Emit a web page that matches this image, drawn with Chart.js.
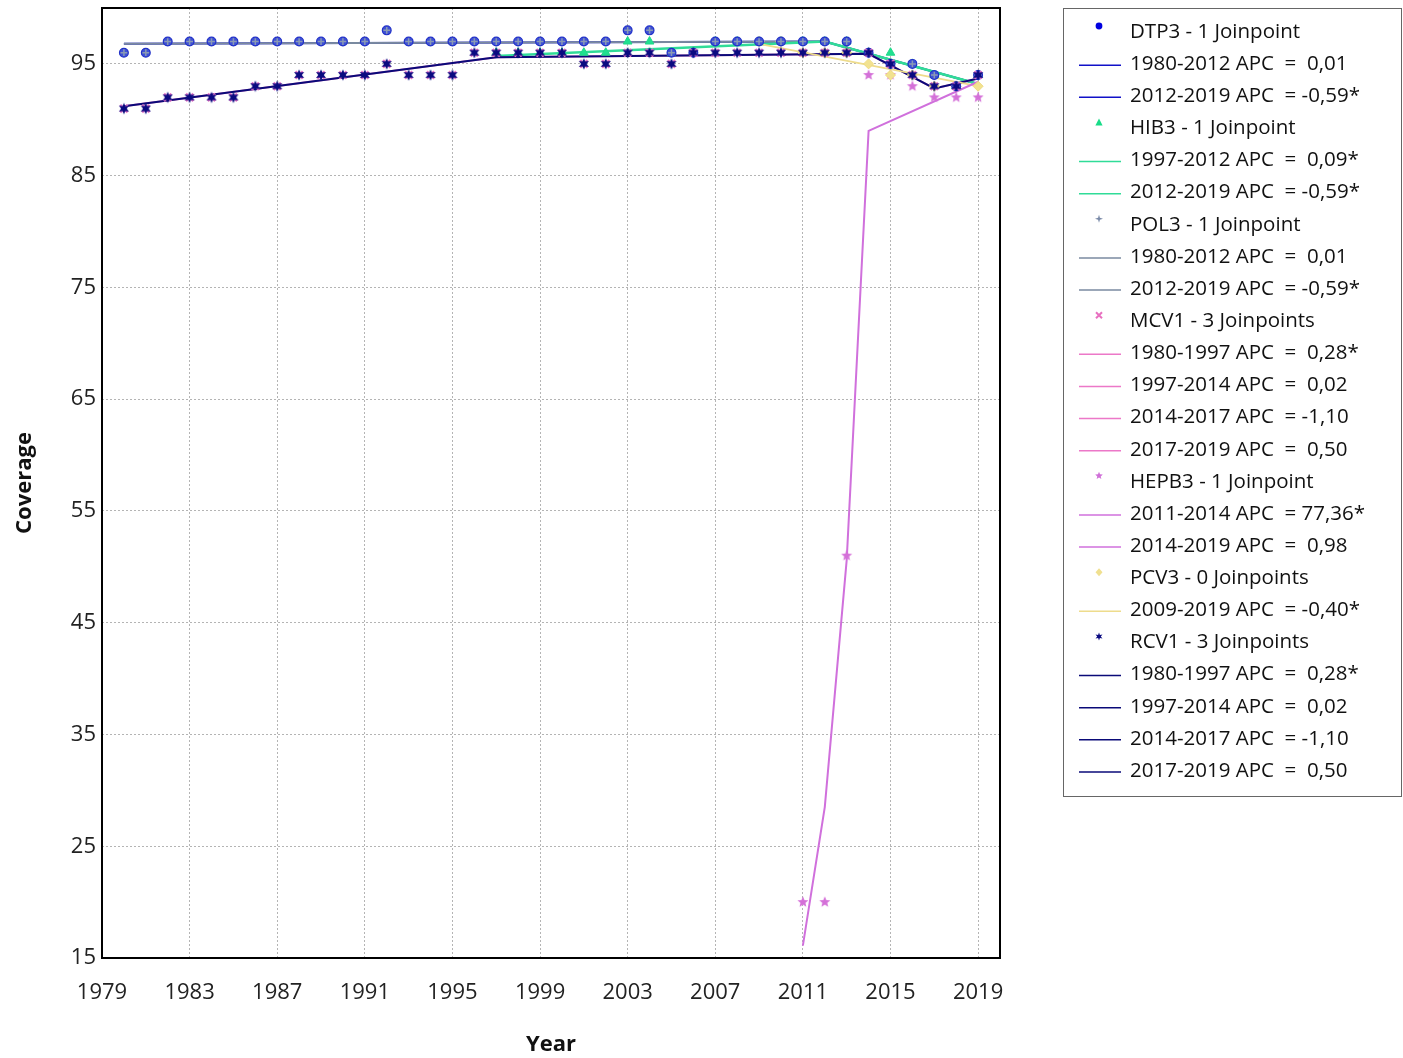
<!DOCTYPE html>
<html>
<head>
<meta charset="utf-8">
<script src="https://cdn.jsdelivr.net/npm/chart.js@4.4.0/dist/chart.umd.min.js"></script>
<style>
  html, body { margin: 0; padding: 0; background: #fff; }
</style>
</head>
<body>
<canvas id="chart" width="1403" height="1058"></canvas>
<script>
// observed coverage, 1980-2019
const years = [1980, 1981, 1982, 1983, 1984, 1985, 1986, 1987, 1988, 1989,
  1990, 1991, 1992, 1993, 1994, 1995, 1996, 1997, 1998, 1999,
  2000, 2001, 2002, 2003, 2004, 2005, 2006, 2007, 2008, 2009,
  2010, 2011, 2012, 2013, 2014, 2015, 2016, 2017, 2018, 2019];
const dtp3 = [96, 96, 97, 97, 97, 97, 97, 97, 97, 97,
  97, 97, 98, 97, 97, 97, 97, 97, 97, 97,
  97, 97, 97, 98, 98, 96, 96, 97, 97, 97,
  97, 97, 97, 97, 96, 95, 95, 94, 93, 94];
const pol3 = [96, 96, 97, 97, 97, 97, 97, 97, 97, 97,
  97, 97, 98, 97, 97, 97, 97, 97, 97, 97,
  97, 97, 97, 98, 98, 96, 96, 97, 97, 97,
  97, 97, 97, 97, 96, 95, 95, 94, 93, 94];
const mcv1 = [91, 91, 92, 92, 92, 92, 93, 93, 94, 94,
  94, 94, 95, 94, 94, 94, 96, 96, 96, 96,
  96, 95, 95, 96, 96, 95, 96, 96, 96, 96,
  96, 96, 96, 96, 96, 95, 94, 93, 93, 94];
const rcv1 = [91, 91, 92, 92, 92, 92, 93, 93, 94, 94,
  94, 94, 95, 94, 94, 94, 96, 96, 96, 96,
  96, 95, 95, 96, 96, 95, 96, 96, 96, 96,
  96, 96, 96, 96, 96, 95, 94, 93, 93, 94];

const hib3Years = [1997, 1998, 1999, 2000, 2001, 2002, 2003, 2004, 2005, 2006, 2007, 2008,
  2009, 2010, 2011, 2012, 2013, 2014, 2015, 2016, 2017, 2018, 2019];
const hib3 = [96, 96, 96, 96, 96, 96, 97, 97, 96, 96, 97, 97,
  97, 97, 97, 97, 97, 96, 96, 95, 94, 93, 94];

const hepb3Years = [2011, 2012, 2013, 2014, 2015, 2016, 2017, 2018, 2019];
const hepb3 = [20, 20, 51, 94, 94, 93, 92, 92, 92];

const pcv3Years = [2009, 2010, 2011, 2012, 2013, 2014, 2015, 2016, 2017, 2018, 2019];
const pcv3 = [97, 97, 96, 96, 96, 95, 94, 94, 93, 93, 93];

// joinpoint fitted segments
const dtp3FitYears = [1980, 2012, 2019];
const dtp3Fit = [96.8, 97.0, 93.2];
const pol3FitYears = [1980, 2012, 2019];
const pol3Fit = [96.8, 97.0, 93.2];
const hib3FitYears = [1997, 2012, 2019];
const hib3Fit = [95.7, 97.0, 93.2];
const mcv1FitYears = [1980, 1997, 2014, 2017, 2019];
const mcv1Fit = [91.2, 95.6, 95.9, 92.8, 93.7];
const rcv1FitYears = [1980, 1997, 2014, 2017, 2019];
const rcv1Fit = [91.2, 95.6, 95.9, 92.8, 93.7];
const hepb3FitYears = [2011, 2012, 2013, 2014, 2019];
const hepb3Fit = [16.1, 28.5, 50.6, 89.0, 93.4];
const pcv3FitYears = [2009, 2019];
const pcv3Fit = [96.8, 93.0];

const xTicks = [1979, 1983, 1987, 1991, 1995, 1999, 2003, 2007, 2011, 2015, 2019];
const yTicks = [15, 25, 35, 45, 55, 65, 75, 85, 95];

const legendRows = [
  ['marker', 'DTP3', 'DTP3 - 1 Joinpoint'],
  ['line', 'DTP3', '1980-2012 APC  =  0,01'],
  ['line', 'DTP3', '2012-2019 APC  = -0,59*'],
  ['marker', 'HIB3', 'HIB3 - 1 Joinpoint'],
  ['line', 'HIB3', '1997-2012 APC  =  0,09*'],
  ['line', 'HIB3', '2012-2019 APC  = -0,59*'],
  ['marker', 'POL3', 'POL3 - 1 Joinpoint'],
  ['line', 'POL3', '1980-2012 APC  =  0,01'],
  ['line', 'POL3', '2012-2019 APC  = -0,59*'],
  ['marker', 'MCV1', 'MCV1 - 3 Joinpoints'],
  ['line', 'MCV1', '1980-1997 APC  =  0,28*'],
  ['line', 'MCV1', '1997-2014 APC  =  0,02'],
  ['line', 'MCV1', '2014-2017 APC  = -1,10'],
  ['line', 'MCV1', '2017-2019 APC  =  0,50'],
  ['marker', 'HEPB3', 'HEPB3 - 1 Joinpoint'],
  ['line', 'HEPB3', '2011-2014 APC  = 77,36*'],
  ['line', 'HEPB3', '2014-2019 APC  =  0,98'],
  ['marker', 'PCV3', 'PCV3 - 0 Joinpoints'],
  ['line', 'PCV3', '2009-2019 APC  = -0,40*'],
  ['marker', 'RCV1', 'RCV1 - 3 Joinpoints'],
  ['line', 'RCV1', '1980-1997 APC  =  0,28*'],
  ['line', 'RCV1', '1997-2014 APC  =  0,02'],
  ['line', 'RCV1', '2014-2017 APC  = -1,10'],
  ['line', 'RCV1', '2017-2019 APC  =  0,50']
];

const lineColors = {
  DTP3: '#1010c8', HIB3: '#30dc98', POL3: '#7a8aa0', MCV1: '#ec78c8',
  HEPB3: '#d070dc', PCV3: '#eedc8c', RCV1: '#0a0a78'
};

const FONT = '"Open Sans", "Noto Sans", sans-serif';

function starPath(ctx, x, y, n, ro, ri) {
  ctx.beginPath();
  for (let i = 0; i < n * 2; i++) {
    const r = i % 2 === 0 ? ro : ri;
    const a = -Math.PI / 2 + i * Math.PI / n;
    const px = x + r * Math.cos(a), py = y + r * Math.sin(a);
    if (i === 0) ctx.moveTo(px, py); else ctx.lineTo(px, py);
  }
  ctx.closePath();
}

function starImage(n, ro, ri, fill) {
  const c = document.createElement('canvas');
  const s = Math.ceil(ro * 2 + 4);
  c.width = s; c.height = s;
  const g = c.getContext('2d');
  g.fillStyle = fill;
  starPath(g, s / 2, s / 2, n, ro, ri);
  g.fill();
  return c;
}

const rcvStar = starImage(6, 5.8, 2.8, '#0a0a80');
const hepStar = starImage(5, 5.8, 2.6, '#d470d8');

function pts(xs, ys) {
  return xs.map((x, i) => ({ x: x, y: ys[i] }));
}

function fitLine(label, xs, ys, color, width, order) {
  return {
    label: label, data: pts(xs, ys), showLine: true, borderColor: color,
    borderWidth: width, pointRadius: 0, pointHoverRadius: 0, order: order
  };
}

const datasets = [
  // fitted lines underneath
  fitLine('DTP3 fit', dtp3FitYears, dtp3Fit, lineColors.DTP3, 2, 27),
  fitLine('POL3 fit', pol3FitYears, pol3Fit, lineColors.POL3, 2, 26),
  fitLine('HIB3 fit', hib3FitYears, hib3Fit, lineColors.HIB3, 2.5, 25),
  fitLine('MCV1 fit', mcv1FitYears, mcv1Fit, lineColors.MCV1, 2, 24),
  fitLine('RCV1 fit', rcv1FitYears, rcv1Fit, lineColors.RCV1, 2, 23),
  fitLine('PCV3 fit', pcv3FitYears, pcv3Fit, lineColors.PCV3, 1.8, 22),
  fitLine('HEPB3 fit', hepb3FitYears, hepb3Fit, lineColors.HEPB3, 2, 21),
  // observed points (lower order is drawn on top)
  { label: 'HIB3', data: pts(hib3Years, hib3), pointStyle: 'triangle', pointRadius: 5,
    backgroundColor: '#20e090', borderColor: '#20d888', borderWidth: 1, order: 9 },
  { label: 'HEPB3', data: pts(hepb3Years, hepb3), pointStyle: hepStar, order: 8 },
  { label: 'PCV3', data: pts(pcv3Years, pcv3), pointStyle: 'rectRot', pointRadius: 5,
    backgroundColor: '#f2e290', borderColor: '#eedb80', borderWidth: 1, order: 7 },
  { label: 'DTP3', data: pts(years, dtp3), pointStyle: 'circle', pointRadius: 4.4,
    backgroundColor: '#4052d4', borderColor: '#2030c8', borderWidth: 1.2, order: 5 },
  { label: 'POL3', data: pts(years, pol3), pointStyle: 'cross', pointRadius: 3.4,
    borderColor: '#8a9ab4', borderWidth: 1.5, order: 4 },
  { label: 'MCV1', data: pts(years, mcv1), pointStyle: 'crossRot', pointRadius: 5.2,
    borderColor: '#e878c8', borderWidth: 2.5, order: 3 },
  { label: 'RCV1', data: pts(years, rcv1), pointStyle: rcvStar, order: 2 }
];

function drawLegendMarker(ctx, key, x, y) {
  ctx.save();
  if (key === 'DTP3') {
    ctx.fillStyle = '#0000e0';
    ctx.beginPath(); ctx.arc(x, y, 3.4, 0, Math.PI * 2); ctx.fill();
  } else if (key === 'HIB3') {
    ctx.fillStyle = '#18dc88';
    ctx.beginPath(); ctx.moveTo(x, y - 4); ctx.lineTo(x + 3.6, y + 3); ctx.lineTo(x - 3.6, y + 3);
    ctx.closePath(); ctx.fill();
  } else if (key === 'POL3') {
    ctx.fillStyle = '#7a8aa8';
    starPath(ctx, x, y, 4, 4, 1.3); ctx.fill();
  } else if (key === 'MCV1') {
    ctx.strokeStyle = '#e870c0'; ctx.lineWidth = 2;
    ctx.beginPath(); ctx.moveTo(x - 3, y - 3); ctx.lineTo(x + 3, y + 3);
    ctx.moveTo(x + 3, y - 3); ctx.lineTo(x - 3, y + 3); ctx.stroke();
  } else if (key === 'HEPB3') {
    ctx.fillStyle = '#d070d8';
    starPath(ctx, x, y, 5, 4, 1.8); ctx.fill();
  } else if (key === 'PCV3') {
    ctx.fillStyle = '#f0e090';
    ctx.beginPath(); ctx.moveTo(x, y - 4); ctx.lineTo(x + 3.5, y); ctx.lineTo(x, y + 4);
    ctx.lineTo(x - 3.5, y); ctx.closePath(); ctx.fill();
  } else if (key === 'RCV1') {
    ctx.fillStyle = '#0a0a80';
    starPath(ctx, x, y, 6, 4, 1.8); ctx.fill();
  }
  ctx.restore();
}

const sideLegend = {
  id: 'sideLegend',
  afterDraw(chart) {
    const ctx = chart.ctx;
    ctx.save();
    ctx.strokeStyle = '#666';
    ctx.lineWidth = 1;
    ctx.strokeRect(1063.5, 8.5, 338, 788);
    ctx.font = '20.5px ' + FONT;
    ctx.textBaseline = 'middle';
    ctx.fillStyle = '#111';
    legendRows.forEach((row, i) => {
      const y = 32 + i * 32.13;
      if (row[0] === 'marker') {
        drawLegendMarker(ctx, row[1], 1099, y - 6);
      } else {
        ctx.strokeStyle = lineColors[row[1]];
        ctx.lineWidth = 1.5;
        ctx.beginPath(); ctx.moveTo(1079, y + 1); ctx.lineTo(1121, y + 1); ctx.stroke();
      }
      ctx.fillText(row[2], 1130, y);
    });
    ctx.restore();
  }
};

const plotFrame = {
  id: 'plotFrame',
  afterDatasetsDraw(chart) {
    const a = chart.chartArea;
    const ctx = chart.ctx;
    ctx.save();
    ctx.strokeStyle = '#000';
    ctx.lineWidth = 2;
    ctx.strokeRect(a.left, a.top, a.right - a.left, a.bottom - a.top);
    ctx.restore();
  }
};

const ctx = document.getElementById('chart').getContext('2d');
new Chart(ctx, {
  type: 'scatter',
  data: { datasets: datasets },
  options: {
    responsive: false,
    animation: false,
    layout: { padding: { top: 8, right: 403, bottom: 0, left: 0 } },
    plugins: { legend: { display: false }, tooltip: { enabled: false } },
    scales: {
      x: {
        type: 'linear', min: 1979, max: 2020,
        afterBuildTicks: (s) => { s.ticks = xTicks.map(v => ({ value: v })); },
        afterFit: (s) => { s.height = 100; s.paddingLeft = 0; s.paddingRight = 0; },
        ticks: { color: '#222', padding: 22, font: { family: FONT, size: 22 },
          callback: (v) => String(v) },
        grid: { color: '#b4b4b4', lineWidth: 1, drawTicks: false },
        border: { display: false, dash: [2, 2] },
        title: { display: true, text: 'Year', color: '#111',
          font: { family: FONT, size: 22, weight: 'bold' }, padding: { top: 2, bottom: 0 } }
      },
      y: {
        type: 'linear', min: 15, max: 100,
        afterBuildTicks: (s) => { s.ticks = yTicks.map(v => ({ value: v })); },
        afterFit: (s) => { s.width = 102; s.paddingTop = 0; s.paddingBottom = 0; },
        ticks: { color: '#222', padding: 6, font: { family: FONT, size: 22 } },
        grid: { color: '#b4b4b4', lineWidth: 1, drawTicks: false },
        border: { display: false, dash: [2, 2] },
        title: { display: true, text: 'Coverage', color: '#111',
          font: { family: FONT, size: 22, weight: 'bold' }, padding: { top: 12, bottom: 0 } }
      }
    }
  },
  plugins: [plotFrame, sideLegend]
});
</script>
</body>
</html>
